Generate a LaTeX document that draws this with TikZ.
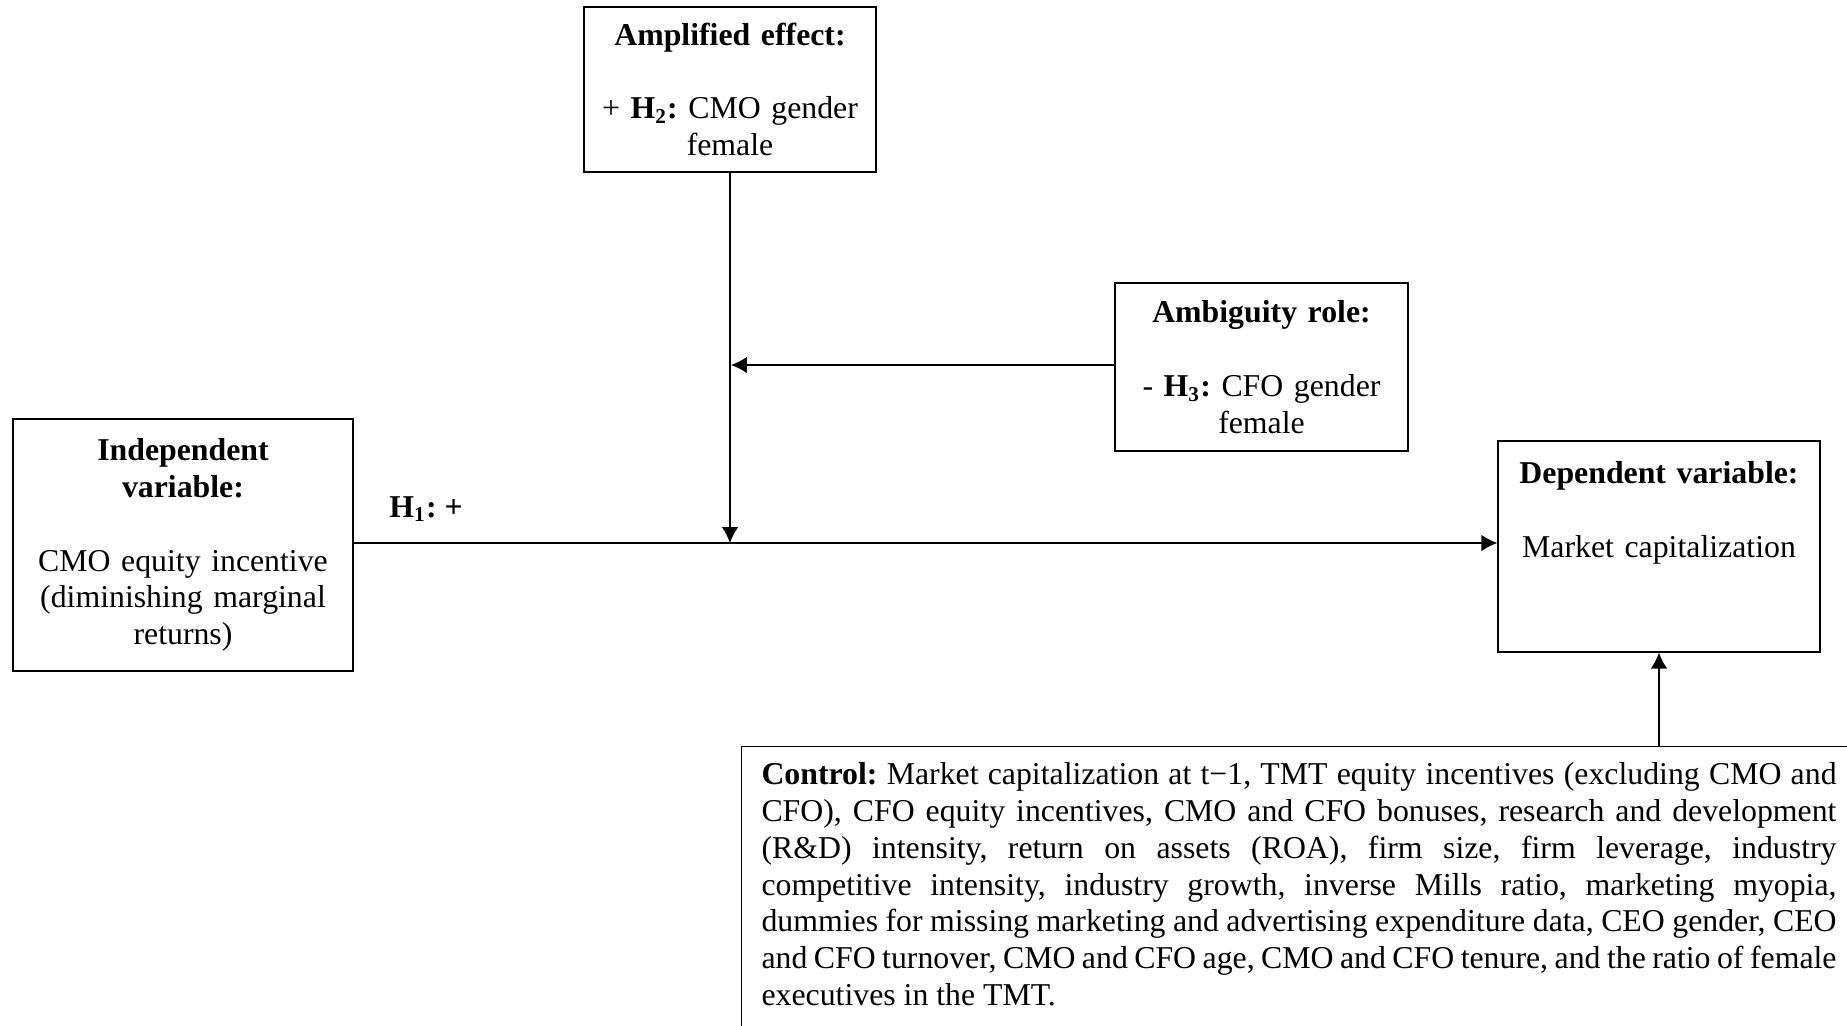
\documentclass[tikz,border=0pt]{standalone}
\usepackage{fontspec}
\setmainfont{Liberation Serif}
\usepackage{tikz}
\usetikzlibrary{arrows.meta,positioning,calc}
\frenchspacing

\begin{document}
\begin{tikzpicture}[x=0.3774pt,y=-0.3774pt,>={Latex[length=6pt,width=6.2pt]},
    font=\fontsize{12pt}{13.9pt}\selectfont,line width=0.5pt,
    varbox/.style={draw,align=center,inner sep=0pt}]
  \useasboundingbox (0,0) rectangle (1847,1026);
  \clip (0,0) rectangle (1847,1026);
  % moderators
  \node[varbox,minimum width=110.2pt,minimum height=62.3pt,text width=100pt] (amp) at (730,89.5)
    {\textbf{Amplified effect:}\\[13.9pt]+ \textbf{H\textsubscript{2}:} CMO gender\\ female};
  \node[varbox,minimum width=110.6pt,minimum height=63.4pt,text width=100pt] (amb) at (1261.5,367)
    {\textbf{Ambiguity role:}\\[13.9pt]- \textbf{H\textsubscript{3}:} CFO gender\\ female};
  % main effect
  \node[varbox,minimum width=128.3pt,minimum height=95.1pt,text width=118pt] (indep) at (183,545)
    {\textbf{Independent}\\ \textbf{variable:}\\[13.9pt]CMO equity incentive\\ (diminishing marginal\\ returns)};
  \node[varbox,minimum width=121.5pt,minimum height=79.6pt,text width=112pt] (dep) at (1659,546.5)
    {\textbf{Dependent variable:}\\[13.9pt]Market capitalization\\[13.9pt]\mbox{}};
  \node[anchor=west] (hone) at (380,509) {\textbf{H\textsubscript{1}: +}};
  % controls
  \node[draw,anchor=north west,align=justify,text width=405.7pt,inner xsep=7.5pt,inner ysep=6pt] (ctl) at (741,746)
    {\textbf{Control:} Market capitalization at t−1, TMT equity incentives (excluding CMO and\linebreak
     CFO), CFO equity incentives, CMO and CFO bonuses, research and development\linebreak
     (R\&D) intensity, return on assets (ROA), firm size, firm leverage, industry\linebreak
     competitive intensity, industry growth, inverse Mills ratio, marketing myopia,\linebreak
     dummies for missing marketing and advertising expenditure data, CEO gender, CEO\linebreak
     and CFO turnover, CMO and CFO age, CMO and CFO tenure, and the ratio of female\linebreak
     executives in the TMT.\par\mbox{}\par\mbox{}};
  \coordinate (hjoin) at (730,543);
  \coordinate (ajoin) at (731,365);
  \draw[->] (indep.east |- hjoin) -- (dep.west |- hjoin);
  \draw[->] (amp.south) -- (hjoin);
  \draw[->] (amb.west |- ajoin) -- (ajoin);
  \draw[->] (dep.south |- ctl.north) -- (dep.south);
\end{tikzpicture}
\end{document}
